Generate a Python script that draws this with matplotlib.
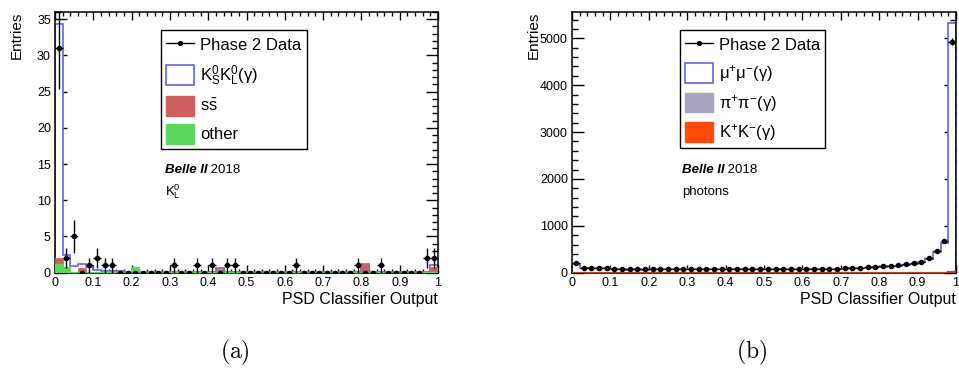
import numpy as np
import matplotlib
matplotlib.use('Agg')
import matplotlib.pyplot as plt
from matplotlib.patches import Patch
from matplotlib.lines import Line2D
from matplotlib.ticker import MultipleLocator, FormatStrFormatter

plt.rcParams['font.family'] = ['Liberation Sans', 'DejaVu Sans']
plt.rcParams['mathtext.default'] = 'regular'

# ---------------- data ----------------
n_bins = 50
x_range = (0.0, 1.0)

# panel (a): K_L^0 candidates
data_a = [31, 2, 5, 0, 1, 2, 1, 1, 0, 0,
          0, 0, 0, 0, 0, 1, 0, 0, 1, 0,
          1, 0, 1, 1, 0, 0, 0, 0, 0, 0,
          0, 1, 0, 0, 0, 0, 0, 0, 0, 1,
          0, 0, 1, 0, 0, 0, 0, 0, 2, 2]
kskl_a = [32.4, 1.85, 0.9, 0.5, 0.75, 0.4, 0.3, 0.25, 0.2, 0.15,
          0.1, 0.12, 0.1, 0.1, 0.08, 0.1, 0.08, 0.07, 0.08, 0.07,
          0.06, 0.05, 0.06, 0.05, 0.05, 0.05, 0.04, 0.05, 0.04, 0.04,
          0.04, 0.04, 0.04, 0.03, 0.04, 0.03, 0.03, 0.03, 0.03, 0.03,
          0.05, 0.03, 0.03, 0.03, 0.04, 0.04, 0.05, 0.06, 0.1, 0.25]
ssbar_a = [0.9, 0, 0, 0.65, 0, 0, 0, 0, 0, 0,
           0, 0, 0, 0, 0, 0, 0, 0, 0, 0,
           0, 0.55, 0, 0, 0, 0, 0, 0, 0, 0,
           0, 0, 0, 0, 0, 0, 0, 0, 0, 0,
           1.15, 0, 0, 0, 0, 0, 0, 0, 0, 0.75]
other_a = [1.1, 0.6, 0, 0, 0, 0, 0, 0, 0, 0,
           0.6, 0, 0, 0, 0, 0, 0, 0, 0, 0,
           0, 0, 0, 0, 0, 0, 0, 0, 0, 0,
           0, 0, 0, 0, 0, 0, 0, 0, 0, 0,
           0, 0, 0, 0, 0, 0, 0, 0, 0, 0]

# panel (b): photons
data_b = [200, 110, 105, 100, 98, 88, 75, 70, 72, 70,
          72, 75, 78, 72, 75, 78, 76, 74, 78, 75,
          77, 74, 80, 76, 78, 74, 80, 76, 72, 75,
          78, 75, 80, 78, 85, 90, 96, 108, 115, 128,
          136, 143, 157, 178, 200, 235, 320, 470, 675, 4930]
mumu_b = [185, 100, 95, 90, 85, 78, 66, 62, 63, 62,
          63, 66, 68, 64, 66, 68, 67, 65, 68, 66,
          67, 65, 70, 67, 68, 65, 70, 67, 64, 66,
          68, 66, 70, 69, 75, 79, 85, 96, 102, 114,
          121, 128, 140, 160, 180, 212, 285, 420, 630, 5300]
pipi_b = [6, 4, 4, 4, 4, 3, 3, 3, 3, 3,
          3, 3, 3, 3, 3, 3, 3, 3, 3, 3,
          3, 3, 3, 3, 3, 3, 3, 3, 3, 3,
          3, 3, 3, 3, 3, 3, 3, 3, 3, 4,
          4, 4, 4, 4, 5, 5, 6, 8, 10, 20]
kk_b = [4, 3, 3, 3, 3, 3, 3, 3, 3, 3,
        3, 3, 3, 3, 3, 3, 3, 3, 3, 3,
        3, 3, 3, 3, 3, 3, 3, 3, 3, 3,
        3, 3, 3, 3, 3, 3, 3, 3, 3, 3,
        3, 3, 3, 3, 3, 3, 3, 3, 4, 5]

legend_a = ['Phase 2 Data', r'$K^{0}_{S}K^{0}_{L}$(γ)', r'$s\bar{s}$', 'other']
legend_b = ['Phase 2 Data', r'μ$^{+}$μ$^{-}$(γ)', r'π$^{+}$π$^{-}$(γ)', r'K$^{+}$K$^{-}$(γ)']

# ---------------- style ----------------
BLUE = '#6464e6'
RED = '#cd5f5f'
GREEN = '#5cd65c'
GREY = '#a9a5c0'
ORANGE = '#ff4a0a'

edges = np.linspace(x_range[0], x_range[1], n_bins + 1)
centers = 0.5 * (edges[:-1] + edges[1:])
half_w = 0.5 * (edges[1] - edges[0])

fig = plt.figure(figsize=(9.59, 3.69), dpi=100)
axA = fig.add_axes([55 / 959, 1 - 272.7 / 369, 383 / 959, 260.7 / 369])
axB = fig.add_axes([572 / 959, 1 - 272.7 / 369, 384 / 959, 260.7 / 369])


def style_axes(ax, ymax, ymaj, ymin):
    ax.set_xlim(*x_range)
    ax.set_ylim(0, ymax)
    ax.xaxis.set_major_locator(MultipleLocator(0.1))
    ax.xaxis.set_minor_locator(MultipleLocator(0.02))
    ax.xaxis.set_major_formatter(FormatStrFormatter('%g'))
    ax.yaxis.set_major_locator(MultipleLocator(ymaj))
    ax.yaxis.set_minor_locator(MultipleLocator(ymin))
    ax.tick_params(axis='both', which='both', direction='in', top=True, right=True,
                   labelsize=9, width=1.0)
    ax.tick_params(axis='x', which='major', length=5.5, pad=3)
    ax.tick_params(axis='x', which='minor', length=2.7)
    ax.tick_params(axis='y', which='major', length=8.5, pad=3)
    ax.tick_params(axis='y', which='minor', length=4.3)
    for s in ax.spines.values():
        s.set_linewidth(1.1)
    ax.set_xlabel('PSD Classifier Output', loc='right', fontsize=11.5, labelpad=2)
    ax.text(-0.1, 1.0, 'Entries', rotation=90, ha='center', va='top',
            fontsize=11, transform=ax.transAxes)


def draw_data(ax, data):
    d = np.asarray(data, dtype=float)
    ax.errorbar(centers, d, xerr=half_w, yerr=np.sqrt(d), fmt='o', color='k',
                ms=3, elinewidth=1.0, capsize=0, zorder=6)


def make_legend(ax, labels, patches, anchor):
    handles = [Line2D([0], [0], color='k', lw=1, marker='o', ms=2.8)] + patches
    leg = ax.legend(handles, labels, loc='upper left', bbox_to_anchor=anchor,
                    fontsize=12, frameon=True, fancybox=False, framealpha=1,
                    edgecolor='k', borderpad=0.3, handlelength=1.7, handleheight=1.45,
                    handletextpad=0.35, labelspacing=0.5, borderaxespad=0)
    leg.get_frame().set_linewidth(1.0)
    return leg


# ---------------- panel (a) ----------------
oth = np.asarray(other_a)
ss_cum = oth + np.asarray(ssbar_a)
tot_a = ss_cum + np.asarray(kskl_a)
axA.stairs(tot_a, edges, fill=True, facecolor='white', edgecolor=BLUE, lw=1.2, zorder=2)
axA.stairs(ss_cum, edges, fill=True, facecolor=RED, edgecolor=RED, lw=0.5, zorder=3)
axA.stairs(oth, edges, fill=True, facecolor=GREEN, edgecolor=GREEN, lw=1.6, zorder=4)
draw_data(axA, data_a)
style_axes(axA, 36, 5, 1)
make_legend(axA, legend_a,
            [Patch(facecolor='white', edgecolor=BLUE, lw=1.2),
             Patch(facecolor=RED, edgecolor=RED),
             Patch(facecolor=GREEN, edgecolor=GREEN)],
            (0.277, 0.931))
tA = axA.text(0.287, 0.394, 'Belle II', fontsize=9.5, fontweight='bold', fontstyle='italic',
              transform=axA.transAxes, va='center')
axA.annotate(' 2018', xy=(1, 0), xycoords=tA, va='bottom', fontsize=9.5)
axA.text(0.287, 0.31, r'$K^{0}_{L}$', fontsize=9.5, transform=axA.transAxes, va='center')

# ---------------- panel (b) ----------------
kk = np.asarray(kk_b, dtype=float)
pp_cum = kk + np.asarray(pipi_b)
tot_b = pp_cum + np.asarray(mumu_b)
axB.stairs(tot_b, edges, fill=True, facecolor='white', edgecolor=BLUE, lw=1.2, zorder=2)
axB.stairs(pp_cum, edges, fill=True, facecolor=GREY, edgecolor=GREY, lw=0.5, zorder=3)
axB.stairs(kk, edges, fill=True, facecolor=ORANGE, edgecolor='#b8441a', lw=1.6, zorder=4)
draw_data(axB, data_b)
style_axes(axB, 5560, 1000, 200)
make_legend(axB, legend_b,
            [Patch(facecolor='white', edgecolor=BLUE, lw=1.2),
             Patch(facecolor=GREY, edgecolor=GREY),
             Patch(facecolor=ORANGE, edgecolor=ORANGE)],
            (0.281, 0.931))
tB = axB.text(0.286, 0.394, 'Belle II', fontsize=9.5, fontweight='bold', fontstyle='italic',
              transform=axB.transAxes, va='center')
axB.annotate(' 2018', xy=(1, 0), xycoords=tB, va='bottom', fontsize=9.5)
axB.text(0.286, 0.31, 'photons', fontsize=9.5, transform=axB.transAxes, va='center')

# ---------------- captions ----------------
fig.text(235 / 959, 1 - 352 / 369, r'$\mathrm{(a)}$', math_fontfamily='cm', fontsize=17,
         ha='center', va='center')
fig.text(752 / 959, 1 - 352 / 369, r'$\mathrm{(b)}$', math_fontfamily='cm', fontsize=17,
         ha='center', va='center')

fig.savefig('out.png', dpi=100)
